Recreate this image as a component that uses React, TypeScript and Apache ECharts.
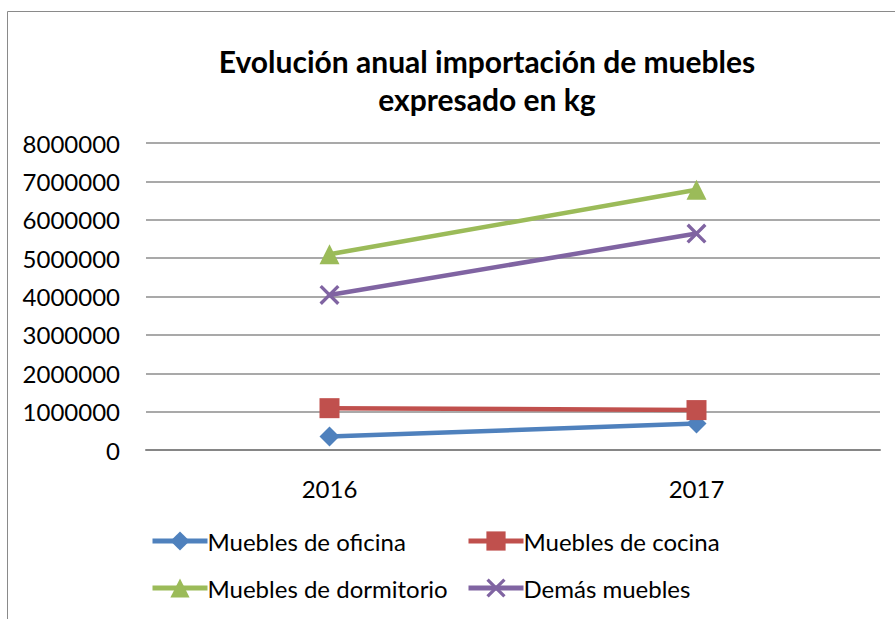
import React, { useEffect, useRef } from "react";
import * as echarts from "echarts";

const categories = ["2016", "2017"];
const seriesNames = [
  "Muebles de oficina",
  "Muebles de cocina",
  "Muebles de dormitorio",
  "Demás muebles",
];
const oficina = [350000, 690000];
const cocina = [1090000, 1040000];
const dormitorio = [5100000, 6780000];
const demas = [4040000, 5640000];
const colors = ["#4F81BD", "#C0504D", "#9BBB59", "#8064A2"];
const symbols = [
  "diamond",
  "rect",
  "triangle",
  "path://M0,1.2 L1.2,0 L10,8.8 L8.8,10 Z M8.8,0 L10,1.2 L1.2,10 L0,8.8 Z",
];
const symbolSizes = [20, 20, 20, 20];

const FONT = "Lato, 'Open Sans', sans-serif";

export default function App() {
  const ref = useRef<HTMLDivElement>(null);
  useEffect(() => {
    if (!ref.current) return;
    const chart = echarts.init(ref.current, undefined, { renderer: "svg" });
    const values = [oficina, cocina, dormitorio, demas];
    const legendPos = [
      { left: 150, top: 529 },
      { left: 466, top: 529 },
      { left: 150, top: 576 },
      { left: 466, top: 576 },
    ];
    chart.setOption({
      animation: false,
      textStyle: { fontFamily: FONT },
      graphic: [
        {
          type: "rect",
          shape: { x: 7.5, y: 11.5, width: 1000, height: 700 },
          style: { fill: "none", stroke: "#8a8a8a", lineWidth: 1 },
          silent: true,
        },
        {
          type: "text",
          x: 487,
          y: 80,
          style: {
            text: "Evolución anual importación de muebles\nexpresado en kg",
            textAlign: "center",
            textVerticalAlign: "middle",
            font: `bold 30px ${FONT}`,
            lineHeight: 38,
            fill: "#000",
          },
        },
      ],
      legend: seriesNames.map((n, i) => ({
        data: [n],
        left: legendPos[i].left,
        top: legendPos[i].top,
        padding: 0,
        itemWidth: 55,
        itemHeight: 24,
        itemGap: 0,
        lineStyle: { width: 5 },
        textStyle: { fontSize: 24, color: "#000", fontFamily: FONT, padding: [0, 0, 0, -5] },
        selectedMode: false,
      })),
      grid: { left: 146, right: 15, top: 143, bottom: 169, containLabel: false },
      xAxis: {
        type: "category",
        data: categories,
        boundaryGap: true,
        axisLine: { show: true, lineStyle: { color: "#868686", width: 2 } },
        axisTick: { show: false },
        axisLabel: { fontSize: 24, color: "#000", margin: 26, fontFamily: FONT },
      },
      yAxis: {
        type: "value",
        min: 0,
        max: 8000000,
        interval: 1000000,
        axisLine: { show: false },
        axisTick: { show: false },
        axisLabel: {
          fontSize: 24,
          color: "#000",
          margin: 26,
          fontFamily: FONT,
          formatter: (v: number) => String(v),
        },
        splitLine: { lineStyle: { color: "#8c8c8c", width: 1.5 } },
      },
      series: seriesNames.map((n, i) => ({
        name: n,
        type: "line",
        data: values[i],
        symbol: symbols[i],
        symbolSize: symbolSizes[i],
        showAllSymbol: true,
        color: colors[i],
        lineStyle: { color: colors[i], width: 4.5 },
        itemStyle: { color: colors[i] },
        emphasis: { disabled: true },
      })),
    });
    return () => chart.dispose();
  }, []);
  return (
    <div
      ref={ref}
      style={{ position: "fixed", left: 0, top: 0, width: 895, height: 619, background: "#fff" }}
    />
  );
}
